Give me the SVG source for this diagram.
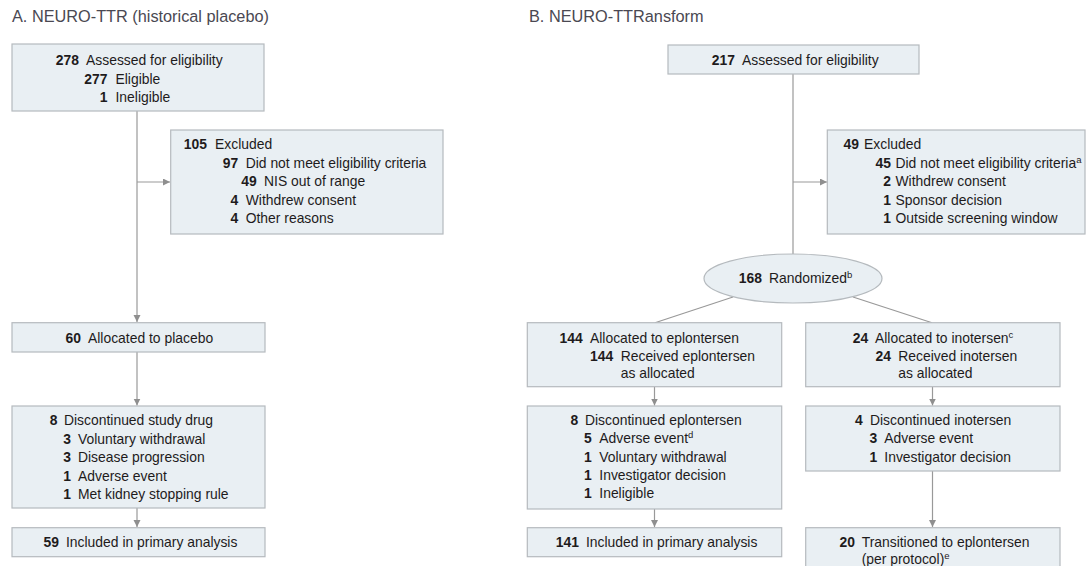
<svg xmlns="http://www.w3.org/2000/svg" width="1087" height="566" viewBox="0 0 1087 566">
<defs>
<marker id="ah" markerUnits="userSpaceOnUse" markerWidth="8" markerHeight="8" refX="7" refY="3.5" orient="auto">
<path d="M0,0 L7,3.5 L0,7 z" fill="#8f8f8f"/>
</marker>
<style>
.box{fill:#e9eff3;stroke:#b5babe;stroke-width:1.2}
.t{font-family:'Liberation Sans',Arial,sans-serif;font-size:13.9px;fill:#1e1b1c}
.n{font-weight:bold;text-anchor:end}
.title{font-family:'Liberation Sans',Arial,sans-serif;font-size:16.3px;fill:#4a4852}
.c{stroke:#999;stroke-width:1.2;fill:none}
.a{marker-end:url(#ah)}
.sup{font-size:9.5px}
</style>
</defs>
<rect width="1087" height="566" fill="#fff"/>
<text class="title" x="12" y="22">A. NEURO-TTR (historical placebo)</text>
<text class="title" x="529" y="22">B. NEURO-TTRansform</text>

<g id="connectors">
<line class="c a" x1="137" y1="111" x2="137" y2="322"/>
<line class="c a" x1="137" y1="182" x2="170" y2="182"/>
<line class="c a" x1="137" y1="352" x2="137" y2="405.5"/>
<line class="c a" x1="137" y1="508" x2="137" y2="527"/>
<line class="c" x1="793" y1="74" x2="793" y2="254"/>
<line class="c a" x1="793" y1="182" x2="827" y2="182"/>
<line class="c" x1="733" y1="297" x2="655" y2="322.7"/>
<line class="c" x1="853" y1="297" x2="932" y2="322.7"/>
<line class="c a" x1="654.5" y1="386.7" x2="654.5" y2="405.5"/>
<line class="c a" x1="932.5" y1="386.7" x2="932.5" y2="405.5"/>
<line class="c a" x1="654.5" y1="509" x2="654.5" y2="527"/>
<line class="c a" x1="932.5" y1="471" x2="932.5" y2="527"/>
</g>

<g id="a-assessed">
<rect class="box" x="12" y="44" width="252" height="67"/>
<text class="t n" x="79" y="65">278</text><text class="t" x="86" y="65">Assessed for eligibility</text>
<text class="t n" x="107.5" y="83.5">277</text><text class="t" x="115.5" y="83.5">Eligible</text>
<text class="t n" x="107.5" y="102">1</text><text class="t" x="115.5" y="102">Ineligible</text>
</g>

<g id="a-excluded">
<rect class="box" x="170.7" y="130" width="272.3" height="104"/>
<text class="t n" x="207" y="149">105</text><text class="t" x="215" y="149">Excluded</text>
<text class="t n" x="238.3" y="167.5">97</text><text class="t" x="245.7" y="167.5">Did not meet eligibility criteria</text>
<text class="t n" x="256.7" y="186">49</text><text class="t" x="264" y="186">NIS out of range</text>
<text class="t n" x="238.3" y="204.5">4</text><text class="t" x="245.7" y="204.5">Withdrew consent</text>
<text class="t n" x="238.3" y="223">4</text><text class="t" x="245.7" y="223">Other reasons</text>
</g>

<g id="a-allocated">
<rect class="box" x="12" y="322.7" width="253" height="29.3"/>
<text class="t n" x="81" y="342.5">60</text><text class="t" x="88" y="342.5">Allocated to placebo</text>
</g>

<g id="a-discontinued">
<rect class="box" x="12" y="406" width="253" height="102"/>
<text class="t n" x="57.5" y="425">8</text><text class="t" x="64" y="425">Discontinued study drug</text>
<text class="t n" x="71" y="443.5">3</text><text class="t" x="78" y="443.5">Voluntary withdrawal</text>
<text class="t n" x="71" y="462">3</text><text class="t" x="78" y="462">Disease progression</text>
<text class="t n" x="71" y="480.5">1</text><text class="t" x="78" y="480.5">Adverse event</text>
<text class="t n" x="71" y="499">1</text><text class="t" x="78" y="499">Met kidney stopping rule</text>
</g>

<g id="a-included">
<rect class="box" x="12" y="527.7" width="253" height="29"/>
<text class="t n" x="59" y="547">59</text><text class="t" x="66" y="547">Included in primary analysis</text>
</g>

<g id="b-assessed">
<rect class="box" x="668" y="45" width="251" height="29"/>
<text class="t n" x="735" y="64.5">217</text><text class="t" x="742" y="64.5">Assessed for eligibility</text>
</g>

<g id="b-excluded">
<rect class="box" x="827.3" y="130" width="257.7" height="104"/>
<text class="t n" x="859" y="149">49</text><text class="t" x="864" y="149">Excluded</text>
<text class="t n" x="891" y="167.5">45</text><text class="t" x="895.5" y="167.5">Did not meet eligibility criteria<tspan class="sup" dy="-5">a</tspan></text>
<text class="t n" x="891" y="186">2</text><text class="t" x="895.5" y="186">Withdrew consent</text>
<text class="t n" x="891" y="204.5">1</text><text class="t" x="895.5" y="204.5">Sponsor decision</text>
<text class="t n" x="891" y="223">1</text><text class="t" x="895.5" y="223">Outside screening window</text>
</g>

<g id="b-randomized">
<ellipse class="box" cx="793" cy="278.5" rx="89" ry="24.5"/>
<text class="t n" x="762" y="283">168</text><text class="t" x="769" y="283">Randomized<tspan class="sup" dy="-5">b</tspan></text>
</g>

<g id="b-eplontersen">
<rect class="box" x="527.3" y="322.7" width="254.4" height="64"/>
<text class="t n" x="582.7" y="342.5">144</text><text class="t" x="590" y="342.5">Allocated to eplontersen</text>
<text class="t n" x="613.3" y="361">144</text><text class="t" x="620.7" y="361">Received eplontersen</text>
<text class="t" x="620.7" y="377.5">as allocated</text>
</g>

<g id="b-inotersen">
<rect class="box" x="805.7" y="322.7" width="254.3" height="64"/>
<text class="t n" x="868.3" y="342.5">24</text><text class="t" x="875" y="342.5">Allocated to inotersen<tspan class="sup" dy="-5">c</tspan></text>
<text class="t n" x="891" y="361">24</text><text class="t" x="898.3" y="361">Received inotersen</text>
<text class="t" x="898.3" y="377.5">as allocated</text>
</g>

<g id="b-disc-eplontersen">
<rect class="box" x="527.3" y="406" width="254.4" height="103"/>
<text class="t n" x="578.3" y="425">8</text><text class="t" x="585" y="425">Discontinued eplontersen</text>
<text class="t n" x="591.7" y="443.3">5</text><text class="t" x="599.3" y="443.3">Adverse event<tspan class="sup" dy="-5">d</tspan></text>
<text class="t n" x="591.7" y="461.7">1</text><text class="t" x="599.3" y="461.7">Voluntary withdrawal</text>
<text class="t n" x="591.7" y="480">1</text><text class="t" x="599.3" y="480">Investigator decision</text>
<text class="t n" x="591.7" y="498.3">1</text><text class="t" x="599.3" y="498.3">Ineligible</text>
</g>

<g id="b-included">
<rect class="box" x="527.3" y="527.7" width="254.4" height="29"/>
<text class="t n" x="579" y="547">141</text><text class="t" x="586" y="547">Included in primary analysis</text>
</g>

<g id="b-disc-inotersen">
<rect class="box" x="805.7" y="406" width="254.3" height="65"/>
<text class="t n" x="862.7" y="425">4</text><text class="t" x="870" y="425">Discontinued inotersen</text>
<text class="t n" x="877.3" y="443.3">3</text><text class="t" x="884.3" y="443.3">Adverse event</text>
<text class="t n" x="877.3" y="461.7">1</text><text class="t" x="884.3" y="461.7">Investigator decision</text>
</g>

<g id="b-transitioned">
<rect class="box" x="805.7" y="527.7" width="254.3" height="50"/>
<text class="t n" x="855" y="547">20</text><text class="t" x="861.7" y="547">Transitioned to eplontersen</text>
<text class="t" x="861.7" y="564">(per protocol)<tspan class="sup" dy="-5">e</tspan></text>
</g>
</svg>
